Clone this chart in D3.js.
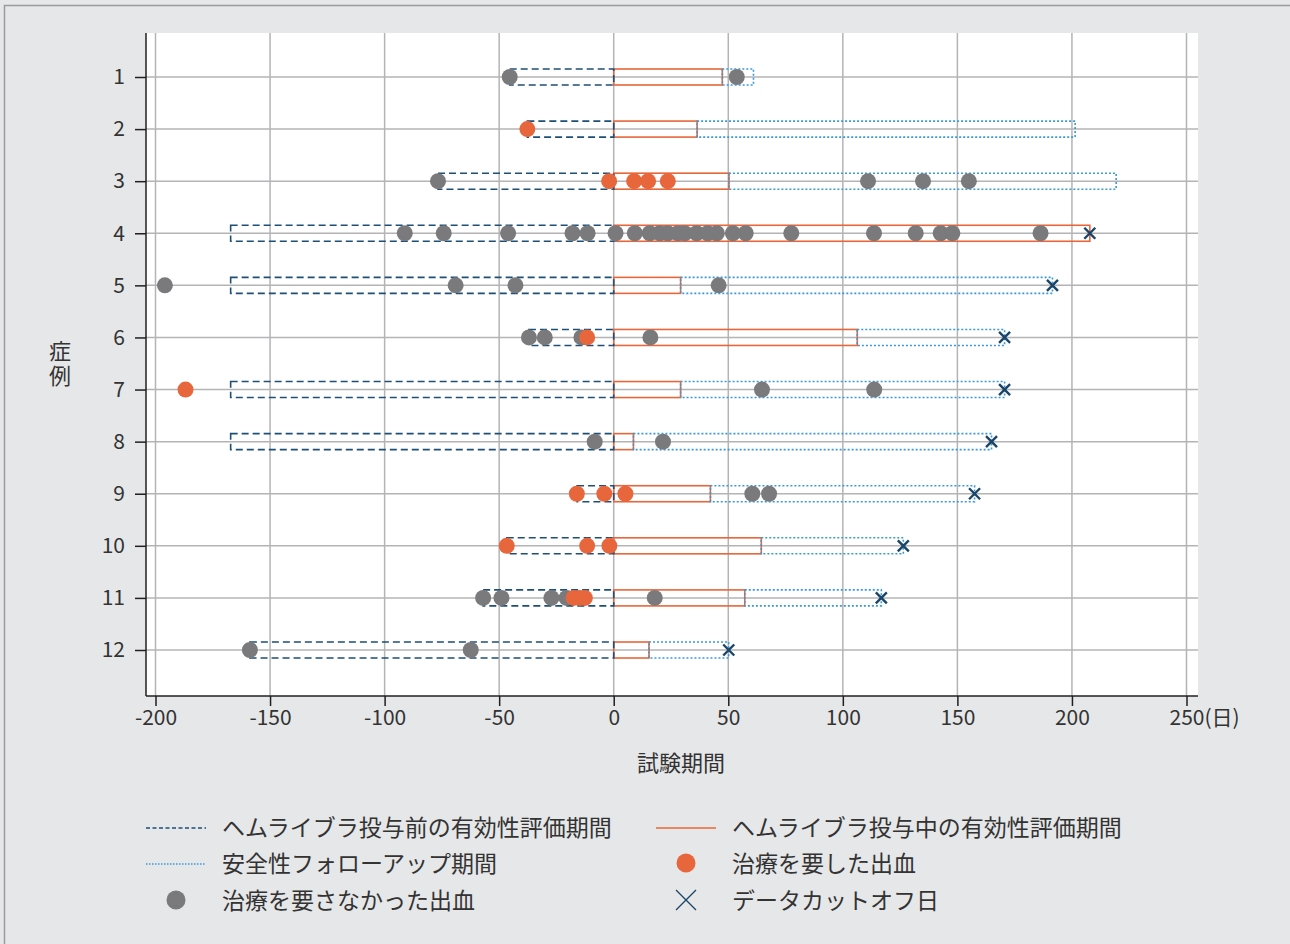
<!DOCTYPE html>
<html>
<head>
<meta charset="utf-8">
<script src="https://cdn.jsdelivr.net/npm/d3@7"></script>
<style>
  html, body { margin: 0; padding: 0; background: #e6e7e8; }
  svg { display: block; font-family: "Noto Sans CJK JP", "Noto Sans", sans-serif; }
</style>
</head>
<body>
<svg id="chart" width="1290" height="944"></svg>
<script>
// Case numbers (y axis)
const cases = [1, 2, 3, 4, 5, 6, 7, 8, 9, 10, 11, 12];
// Start of the pre-treatment efficacy period (days, negative = before first dose)
const preStart = [-45.4, -37.7, -76.7, -167.2, -167.2, -37, -167.2, -167.2, -16, -46.7, -57, -158.8];
// End of the on-treatment efficacy period (days)
const treatEnd = [47.4, 36.4, 50.3, 207.8, 29.2, 106.3, 29.2, 8.6, 42.2, 64.4, 57.2, 15.4];
// End of the safety follow-up period (days)
const followEnd = [61, 201.4, 219.3, 207.8, 191.5, 170.6, 170.6, 164.9, 157.5, 126.4, 116.8, 50.2];
// Data cut-off day (null = no cut-off marker)
const cutoffDay = [null, null, null, 207.8, 191.5, 170.6, 170.6, 164.9, 157.5, 126.4, 116.8, 50.2];
// Bleeds that did not require treatment, per case
const untreatedBleeds = [
  [-45.4, 53.7],
  [],
  [-76.7, 111, 135, 155],
  [-91.2, -74.2, -46.1, -18, -11.4, 0.8, 9.2, 15.7, 20.1, 23.6, 28, 31, 36.2, 41, 45, 52, 57.6, 77.5, 113.6, 131.8, 142.7, 147.8, 186.3],
  [-195.9, -69, -42.9, 45.8],
  [-37, -30.1, -14.1, 16],
  [64.7, 113.7],
  [-8.3, 21.5],
  [60.5, 67.8],
  [],
  [-57, -49, -27.2, -20.6, 17.9],
  [-158.8, -62.4]
];
// Bleeds that required treatment, per case
const treatedBleeds = [
  [],
  [-37.7],
  [-2, 8.9, 15, 23.6],
  [],
  [],
  [-11.6],
  [-186.9],
  [],
  [-16.1, -4.1, 5.1],
  [-46.7, -11.6, -1.9],
  [-17.5, -14.8, -12.6],
  []
];
// X axis ticks
const xTicks = [-200, -150, -100, -50, 0, 50, 100, 150, 200, 250];

const legendItems = [
  { key: "pre", label: "ヘムライブラ投与前の有効性評価期間" },
  { key: "treat", label: "ヘムライブラ投与中の有効性評価期間" },
  { key: "follow", label: "安全性フォローアップ期間" },
  { key: "treated", label: "治療を要した出血" },
  { key: "untreated", label: "治療を要さなかった出血" },
  { key: "cutoff", label: "データカットオフ日" }
];

const C = {
  pre: "#1e4f77",
  treat: "#e8663b",
  follow: "#3a9ad6",
  treated: "#e8663b",
  untreated: "#7a7a7c",
  cutoff: "#1a4568",
  grid: "#b4b4b6",
  axis: "#231f20",
  text: "#333333"
};

const svg = d3.select("#chart");

// outer panel frame
svg.append("rect").attr("x", 4.5).attr("y", 5.5).attr("width", 1300).attr("height", 960)
  .attr("fill", "#e6e7e8").attr("stroke", "#9a9a9c").attr("stroke-width", 1.5);

const plot = { left: 146, right: 1198, top: 33, bottom: 696 };

const x = d3.scaleLinear().domain([-200, 250]).range([155.5, 1186.5]);
const y = d3.scaleLinear().domain([1, 12]).range([77, 650]);

svg.append("rect").attr("x", plot.left).attr("y", plot.top)
  .attr("width", plot.right - plot.left).attr("height", plot.bottom - plot.top)
  .attr("fill", "#ffffff");

// grid
const grid = svg.append("g");
grid.selectAll("line.v").data(xTicks).join("line")
  .attr("x1", d => x(d)).attr("x2", d => x(d))
  .attr("y1", plot.top).attr("y2", plot.bottom)
  .attr("stroke", C.grid).attr("stroke-width", 1.5);
grid.selectAll("line.h").data(cases).join("line")
  .attr("x1", plot.left).attr("x2", plot.right)
  .attr("y1", d => y(d)).attr("y2", d => y(d))
  .attr("stroke", C.grid).attr("stroke-width", 1.5);

// axes
const tickFont = '"Noto Sans CJK JP", sans-serif';
const xAxis = d3.axisBottom(x).tickValues(xTicks).tickFormat(d => String(d))
  .tickSize(10).tickSizeOuter(0).tickPadding(4);
const gx = svg.append("g").attr("transform", `translate(0,${plot.bottom})`).call(xAxis);
gx.select(".domain").attr("d", `M${plot.left},0H${plot.right}`).attr("stroke", C.axis).attr("stroke-width", 1.5);
gx.selectAll(".tick line").attr("stroke", C.axis).attr("stroke-width", 1.5);
gx.selectAll(".tick text").attr("fill", C.text).style("font-size", "21px").style("font-family", tickFont);
// unit after the last tick
gx.selectAll(".tick").filter(d => d === 250).each(function () {
  const t = d3.select(this).select("text");
  const w = t.node().getComputedTextLength();
  d3.select(this).append("text")
    .attr("x", w / 2).attr("y", t.attr("y")).attr("dy", t.attr("dy"))
    .attr("text-anchor", "start").attr("fill", C.text)
    .style("font-size", "21px").style("font-family", tickFont)
    .text("(日)");
});

const yAxis = d3.axisLeft(y).tickValues(cases).tickSize(11).tickSizeOuter(0).tickPadding(10);
const gy = svg.append("g").attr("transform", `translate(${plot.left},0)`).call(yAxis);
gy.select(".domain").attr("d", `M0,${plot.top}V${plot.bottom}`).attr("stroke", C.axis).attr("stroke-width", 1.5);
gy.selectAll(".tick line").attr("stroke", C.axis).attr("stroke-width", 1.5);
gy.selectAll(".tick text").attr("fill", C.text).style("font-size", "21px").style("font-family", tickFont);

// axis titles
svg.append("text").attr("x", 681).attr("y", 771).attr("text-anchor", "middle")
  .attr("fill", C.text).style("font-size", "22px").text("試験期間");
svg.append("text").attr("x", 60).attr("y", 365).attr("text-anchor", "middle")
  .style("writing-mode", "vertical-rl").style("letter-spacing", "3px")
  .attr("fill", C.text).style("font-size", "22px").text("症例");

// period rectangles
const h = 16;
const rows = cases.map((c, i) => ({
  c, pre: preStart[i], te: treatEnd[i], fe: followEnd[i], cut: cutoffDay[i],
  un: untreatedBleeds[i], tr: treatedBleeds[i]
}));

const bars = svg.append("g").attr("fill", "none");
bars.selectAll("rect.treat").data(rows).join("rect")
  .attr("x", d => x(0)).attr("width", d => x(d.te) - x(0))
  .attr("y", d => y(d.c) - h / 2).attr("height", h)
  .attr("stroke", C.treat).attr("stroke-width", 1.6);
bars.selectAll("rect.pre").data(rows).join("rect")
  .attr("x", d => x(d.pre)).attr("width", d => x(0) - x(d.pre))
  .attr("y", d => y(d.c) - h / 2).attr("height", h)
  .attr("stroke", C.pre).attr("stroke-width", 1.6).attr("stroke-dasharray", "7,4");
bars.selectAll("rect.follow").data(rows.filter(d => d.fe > d.te)).join("rect")
  .attr("x", d => x(d.te)).attr("width", d => x(d.fe) - x(d.te))
  .attr("y", d => y(d.c) - h / 2).attr("height", h)
  .attr("stroke", C.follow).attr("stroke-width", 1.6).attr("stroke-dasharray", "2,2");

// bleeds
const r = 8;
const pts = svg.append("g");
pts.selectAll("circle.un").data(rows.flatMap(d => d.un.map(v => ({ c: d.c, v })))).join("circle")
  .attr("cx", d => x(d.v)).attr("cy", d => y(d.c)).attr("r", r).attr("fill", C.untreated);
pts.selectAll("circle.tr").data(rows.flatMap(d => d.tr.map(v => ({ c: d.c, v })))).join("circle")
  .attr("cx", d => x(d.v)).attr("cy", d => y(d.c)).attr("r", r).attr("fill", C.treated);

// data cut-off markers
const s = 5.5;
pts.selectAll("path.cut").data(rows.filter(d => d.cut != null)).join("path")
  .attr("d", d => {
    const cx = x(d.cut), cy = y(d.c);
    return `M${cx - s},${cy - s}L${cx + s},${cy + s}M${cx - s},${cy + s}L${cx + s},${cy - s}`;
  })
  .attr("stroke", C.cutoff).attr("stroke-width", 2.4).attr("fill", "none");

// legend
const legendPos = [
  { x: 146, y: 828 }, { x: 656, y: 828 },
  { x: 146, y: 864 }, { x: 656, y: 864 },
  { x: 146, y: 901 }, { x: 656, y: 901 }
];
const lg = svg.append("g");
legendItems.forEach((it, i) => {
  const p = legendPos[i];
  const g = lg.append("g").attr("transform", `translate(${p.x},${p.y})`);
  if (it.key === "pre") {
    g.append("line").attr("x1", 0).attr("x2", 60).attr("stroke", C.pre).attr("stroke-width", 1.5).attr("stroke-dasharray", "4,2.5");
  } else if (it.key === "treat") {
    g.append("line").attr("x1", 0).attr("x2", 60).attr("stroke", C.treat).attr("stroke-width", 1.5);
  } else if (it.key === "follow") {
    g.append("line").attr("x1", 0).attr("x2", 60).attr("stroke", C.follow).attr("stroke-width", 1.5).attr("stroke-dasharray", "1.5,1.5");
  } else if (it.key === "treated" || it.key === "untreated") {
    g.append("circle").attr("cx", 30).attr("cy", -1).attr("r", 9.5).attr("fill", C[it.key]);
  } else {
    g.append("path").attr("d", "M20,-11L40,9M20,9L40,-11").attr("stroke", C.cutoff).attr("stroke-width", 1.3).attr("fill", "none");
  }
  g.append("text").attr("x", 76).attr("y", 8).attr("fill", C.text)
    .style("font-size", "23px").text(it.label);
});
</script>
</body>
</html>
